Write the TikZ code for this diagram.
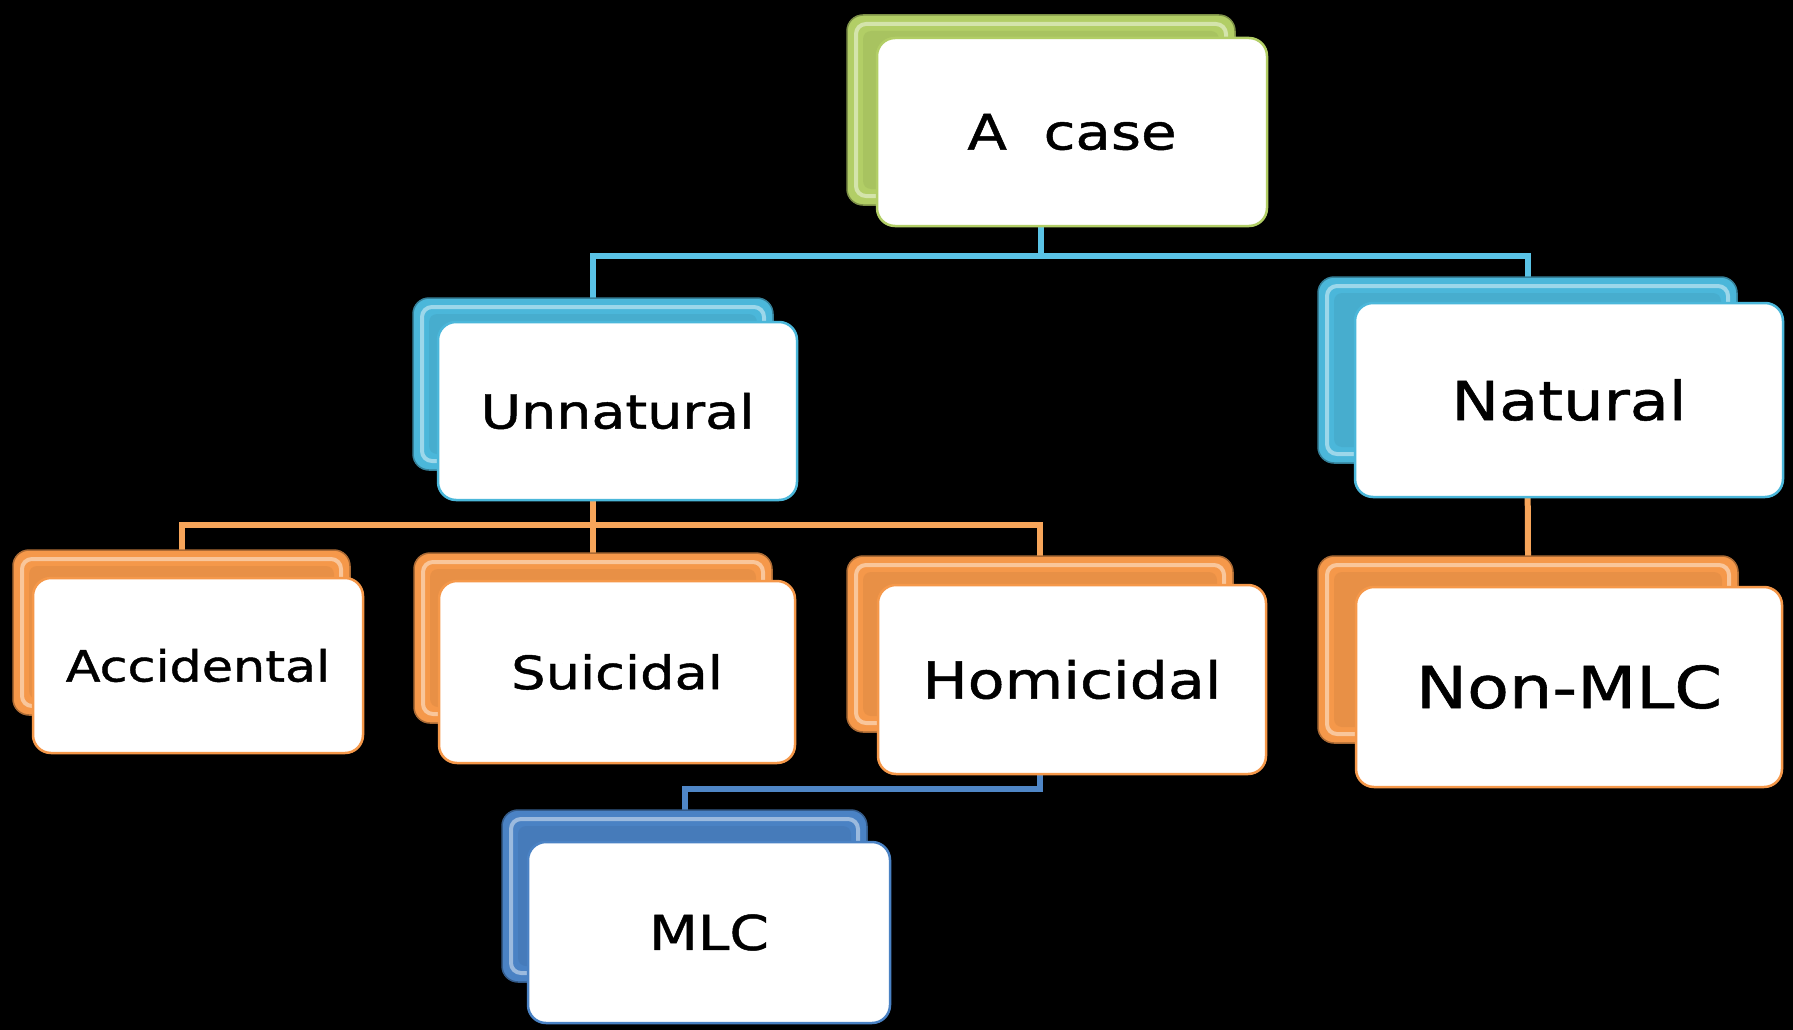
\documentclass[tikz,border=0pt]{standalone}
\usepackage{fontspec}
\setmainfont[FakeStretch=1.18,FakeBold=1]{DejaVu Sans}
\pgfdeclarelayer{canvas}
\pgfdeclarelayer{bg}
\pgfsetlayers{canvas,bg,main}
\definecolor{cgreen}{HTML}{B2CE66}
\definecolor{cteal}{HTML}{4BB7DA}
\definecolor{corange}{HTML}{F5984A}
\definecolor{cblue}{HTML}{4A82C4}
\definecolor{lteal}{HTML}{5AC3E6}
\definecolor{lorange}{HTML}{F7A55A}
\definecolor{lblue}{HTML}{4F86C6}
\tikzset{
  backbox/.style={draw=#1!70!black, line width=1.5pt, fill=#1, rounded corners=16pt, inner sep=0pt,
    path picture={\draw[white, opacity=.45, line width=4pt, rounded corners=10pt]
      ([shift={(9pt,-9pt)}]path picture bounding box.north west) rectangle ([shift={(-9pt,9pt)}]path picture bounding box.south east);
      \fill[#1!80!black, opacity=.25, rounded corners=8pt]
      ([shift={(16pt,-16pt)}]path picture bounding box.north west) rectangle ([shift={(-16pt,16pt)}]path picture bounding box.south east);}},
  frontbox/.style={draw=#1, line width=2.5pt, fill=white, rounded corners=18pt, inner sep=0pt, text=black, align=center},
  conn/.style={line width=6pt, line cap=rect, #1},
}
\newcommand{\fs}[1]{\fontsize{#1}{#1}\selectfont}
\begin{document}
\begin{tikzpicture}[x=1pt,y=-1pt]
\useasboundingbox (0,0) rectangle (1793,1030);
\begin{pgfonlayer}{canvas}
\fill[black] (0,0) rectangle (1793,1030);
\end{pgfonlayer}
% back boxes
\path
 node[backbox=cgreen, minimum width=388pt, minimum height=190pt] (caseb) at (1041,110) {}
 node[backbox=cteal, minimum width=360pt, minimum height=172pt] (unb) at (593,384) {}
 node[backbox=cteal, minimum width=419pt, minimum height=186pt] (natb) at (1527.5,370) {}
 node[backbox=corange, minimum width=337pt, minimum height=165pt] (accb) at (181.5,632.5) {}
 node[backbox=corange, minimum width=358pt, minimum height=170pt] (suib) at (593,638) {}
 node[backbox=corange, minimum width=386pt, minimum height=176pt] (homb) at (1040,644) {}
 node[backbox=corange, minimum width=420pt, minimum height=187pt] (nmb) at (1528,649.5) {}
 node[backbox=cblue, minimum width=365pt, minimum height=172pt] (mlcb) at (684.5,896) {};
% front boxes
\path
 node[frontbox=cgreen, minimum width=390pt, minimum height=188pt] (case) at (1072,132) {\fs{49}A\ \ case}
 node[frontbox=cteal, minimum width=359pt, minimum height=178pt] (un) at (617.5,411) {\fs{47}Unnatural}
 node[frontbox=cteal, minimum width=428pt, minimum height=194pt] (nat) at (1569,400) {\fs{54}Natural}
 node[frontbox=corange, minimum width=330pt, minimum height=175pt] (acc) at (198,665.5) {\fs{43}Accidental}
 node[frontbox=corange, minimum width=356pt, minimum height=182pt] (sui) at (617,672) {\fs{46}Suicidal}
 node[frontbox=corange, minimum width=388pt, minimum height=189pt] (hom) at (1072,679.5) {\fs{51}Homicidal}
 node[frontbox=corange, minimum width=426pt, minimum height=200pt] (nm) at (1569,687) {\fs{58}Non-MLC}
 node[frontbox=cblue, minimum width=362pt, minimum height=181pt] (mlc) at (709,932.5) {\fs{48}MLC};
% connectors
\coordinate (j1) at (1041,256);
\coordinate (j2) at (593,525);
\coordinate (j3) at (1040,789);
\begin{pgfonlayer}{bg}
\draw[conn=lteal] (caseb.south) -- (j1) -| (unb.north);
\draw[conn=lteal] (j1) -| (natb.north);
\draw[conn=lorange] (unb.south) -- (j2) -| (accb.north);
\draw[conn=lorange] (j2) -| (suib.north);
\draw[conn=lorange] (j2) -| (homb.north);
\draw[conn=lorange] (natb.south) -- (nmb.north);
\draw[conn=lblue] (homb.south) -- (j3) -| (mlcb.north);
\end{pgfonlayer}
\end{tikzpicture}
\end{document}
